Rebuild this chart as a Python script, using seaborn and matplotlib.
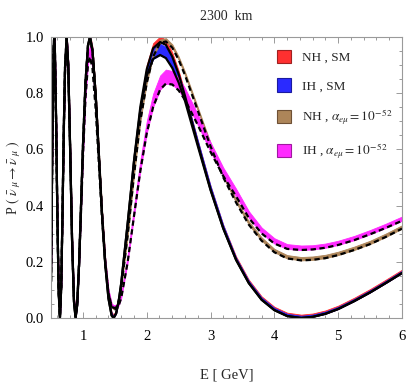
import matplotlib
matplotlib.use("Agg")
import numpy as np
import pandas as pd
import seaborn as sns
import matplotlib.pyplot as plt
from matplotlib.patches import Patch
from matplotlib.ticker import MultipleLocator

sns.set_style("ticks")
plt.rcParams['font.family'] = ['Liberation Serif', 'DejaVu Serif']
plt.rcParams['mathtext.fontset'] = 'stix'

# ---------------- data ----------------
energy = [0.50, 0.52, 0.54, 0.55, 0.56, 0.58, 0.60, 0.62, 0.64, 0.66,
          0.68, 0.70, 0.72, 0.745, 0.77, 0.80, 0.83, 0.86, 0.885, 0.91,
          0.94, 0.97, 1.00, 1.04, 1.08, 1.11, 1.15, 1.20, 1.25, 1.30,
          1.35, 1.40, 1.45, 1.48, 1.52, 1.56, 1.60, 1.70, 1.80, 1.90,
          2.00, 2.10, 2.21, 2.30, 2.40, 2.50, 2.60, 2.80, 3.00, 3.20,
          3.40, 3.60, 3.80, 4.00, 4.20, 4.42, 4.60, 4.80, 5.00, 5.25,
          5.50, 5.75, 6.00]

p_nh_sm = [0.130, 0.593, 0.951, 1.000, 0.962, 0.702, 0.359, 0.094, 0.000, 0.110,
           0.368, 0.666, 0.892, 1.000, 0.900, 0.603, 0.277, 0.058, 0.000, 0.045,
           0.192, 0.395, 0.606, 0.837, 0.971, 1.000, 0.952, 0.792, 0.580, 0.367,
           0.191, 0.070, 0.009, 0.000, 0.016, 0.059, 0.123, 0.334, 0.559, 0.752,
           0.885, 0.960, 0.982, 0.972, 0.930, 0.868, 0.790, 0.620, 0.458, 0.319,
           0.207, 0.124, 0.065, 0.028, 0.007, 0.000, 0.004, 0.015, 0.032, 0.060,
           0.091, 0.125, 0.160]

p_ih_sm = [0.130, 0.593, 0.951, 1.000, 0.962, 0.702, 0.359, 0.094, 0.000, 0.110,
           0.368, 0.666, 0.892, 1.000, 0.900, 0.603, 0.277, 0.058, 0.000, 0.045,
           0.192, 0.395, 0.606, 0.837, 0.971, 1.000, 0.952, 0.792, 0.580, 0.367,
           0.191, 0.070, 0.009, 0.000, 0.016, 0.059, 0.123, 0.334, 0.555, 0.740,
           0.862, 0.922, 0.936, 0.925, 0.890, 0.838, 0.772, 0.612, 0.455, 0.318,
           0.207, 0.124, 0.065, 0.028, 0.007, 0.000, 0.004, 0.015, 0.032, 0.060,
           0.091, 0.125, 0.160]

p_nh_alpha = [0.130, 0.593, 0.951, 0.998, 0.962, 0.702, 0.360, 0.095, 0.002, 0.111,
              0.369, 0.666, 0.891, 0.998, 0.900, 0.605, 0.280, 0.062, 0.005, 0.050,
              0.198, 0.401, 0.610, 0.839, 0.970, 0.995, 0.950, 0.795, 0.585, 0.375,
              0.202, 0.087, 0.038, 0.031, 0.032, 0.060, 0.108, 0.291, 0.507, 0.701,
              0.836, 0.930, 0.979, 0.984, 0.962, 0.919, 0.864, 0.738, 0.611, 0.500,
              0.411, 0.332, 0.275, 0.234, 0.212, 0.205, 0.207, 0.213, 0.224, 0.242,
              0.263, 0.289, 0.318]

p_ih_alpha = [0.130, 0.590, 0.945, 0.995, 0.962, 0.702, 0.360, 0.095, 0.003, 0.110,
              0.362, 0.655, 0.875, 0.980, 0.885, 0.595, 0.278, 0.062, 0.006, 0.048,
              0.185, 0.375, 0.568, 0.782, 0.905, 0.930, 0.888, 0.742, 0.548, 0.352,
              0.192, 0.088, 0.042, 0.036, 0.037, 0.044, 0.071, 0.197, 0.362, 0.524,
              0.657, 0.751, 0.813, 0.834, 0.831, 0.810, 0.776, 0.687, 0.591, 0.505,
              0.433, 0.356, 0.301, 0.265, 0.246, 0.242, 0.244, 0.250, 0.260, 0.277,
              0.298, 0.321, 0.346]

# band spreads (upper edge minus central line)
spread_nh_sm = [0.012] * 40 + [0.016, 0.018, 0.020, 0.018, 0.015] + [0.012] * 18
spread_ih_sm = [0.008] * 38 + [0.015, 0.020, 0.030, 0.038, 0.040, 0.040, 0.035,
                               0.030, 0.025, 0.020, 0.015, 0.012] + [0.008] * 13
spread_nh_alpha = [0.012] * 63
spread_ih_alpha = [0.015, 0.020, 0.030, 0.035, 0.030, 0.020, 0.015, 0.010, 0.008, 0.010,
                   0.015, 0.020, 0.030, 0.035, 0.030, 0.020, 0.015, 0.010, 0.008, 0.010,
                   0.015, 0.020, 0.025, 0.030, 0.035, 0.040, 0.040, 0.035, 0.030, 0.025,
                   0.020, 0.015, 0.010, 0.010, 0.010, 0.012, 0.015, 0.025, 0.032, 0.038,
                   0.043, 0.047, 0.050, 0.050, 0.048, 0.045, 0.042, 0.038, 0.034, 0.030,
                   0.027, 0.024, 0.021, 0.019, 0.017, 0.016, 0.015, 0.015, 0.015, 0.015,
                   0.015, 0.015, 0.015]

labels = ["NH , SM", "IH , SM",
          r"NH , $\alpha_{e\mu} = 10^{-\,52}$",
          r"IH , $\alpha_{e\mu} = 10^{-\,52}$"]
band_colors = ["#ff3030", "#2a2aff", "#ad8559", "#ff2bff"]
edge_colors = ["#a02020", "#1a1aa0", "#6e5035", "#a018a0"]

x_ticks = [1, 2, 3, 4, 5, 6]
x_ticklabels = ["1", "2", "3", "4", "5", "6"]
y_ticks = [0.0, 0.2, 0.4, 0.6, 0.8, 1.0]
y_ticklabels = ["0.0", "0.2", "0.4", "0.6", "0.8", "1.0"]

# ---------------- figure ----------------
fig = plt.figure(figsize=(4.09, 3.82), dpi=100)
ax = fig.add_axes([51 / 409, 1 - 318 / 382, 351 / 409, 281 / 382])

series = [p_nh_sm, p_ih_sm, p_nh_alpha, p_ih_alpha]
spreads = [spread_nh_sm, spread_ih_sm, spread_nh_alpha, spread_ih_alpha]
E = np.array(energy)
for vals, spr, col in zip(series, spreads, band_colors):
    v = np.array(vals)
    ax.fill_between(E, v, v + np.array(spr), color=col, lw=0.6, edgecolor=col)

df = pd.DataFrame({"E": energy * 4,
                   "P": p_nh_sm + p_ih_sm + p_nh_alpha + p_ih_alpha,
                   "series": sum([[lab] * len(energy) for lab in labels], [])})
styles = ["-", "-", (0, (2.4, 1.6)), (0, (2.4, 1.6))]
for lab, ls in zip(labels, styles):
    sub = df[df["series"] == lab]
    sns.lineplot(data=sub, x="E", y="P", ax=ax, color="black", lw=1.6,
                 linestyle=ls, estimator=None, sort=False, legend=False)

ax.set_xlim(0.5, 6.0)
ax.set_ylim(0.0, 1.0)
ax.set_xticks(x_ticks, x_ticklabels)
ax.set_yticks(y_ticks, y_ticklabels)
ax.xaxis.set_minor_locator(MultipleLocator(0.2))
ax.yaxis.set_minor_locator(MultipleLocator(0.05))
ax.tick_params(which="both", direction="in", top=True, right=True,
               color="#9a9a9a", width=0.7, labelsize=10.5, labelcolor="black")
ax.tick_params(which="major", length=4.5)
ax.tick_params(axis="x", which="major", pad=9)
ax.tick_params(axis="y", which="major", pad=5)
ax.tick_params(which="minor", length=2.5)
for sp in ax.spines.values():
    sp.set_color("#9a9a9a")
    sp.set_linewidth(0.8)

ax.set_xlabel("E [ GeV]", fontsize=10.5)
ax.xaxis.set_label_coords(0.5, -0.178)
ax.set_ylabel(r"P $(\ \bar{\nu}_{\ \mu} \rightarrow \bar{\nu}_{\ \mu}\ )$",
              fontsize=10)
ax.yaxis.set_label_coords(-0.08, 0.5)
ax.set_title("2300  km", fontsize=10, pad=12)

handles = [Patch(facecolor=c, edgecolor=e, lw=0.8) for c, e in zip(band_colors, edge_colors)]
ax.legend(handles, labels, loc="upper left", bbox_to_anchor=(0.645, 0.955),
          frameon=False, fontsize=9.5, handlelength=1.0, handleheight=1.2,
          labelspacing=1.1, handletextpad=0.9, borderpad=0, borderaxespad=0)

fig.savefig("out.png", dpi=100)
